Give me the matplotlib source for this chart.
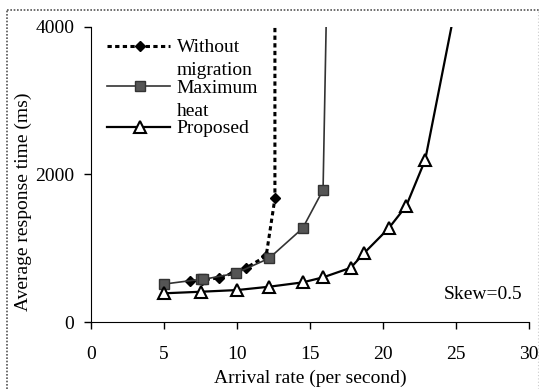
import matplotlib.pyplot as plt
from matplotlib.lines import Line2D

# values
without_x = [6.8, 7.6, 8.8, 9.8, 10.6, 12.0, 12.6, 12.6]
without_y = [560, 570, 600, 670, 730, 895, 1677, 6000]

maxheat_x = [5.0, 7.5, 7.7, 9.9, 12.2, 14.5, 15.9, 16.3]
maxheat_y = [515, 579, 579, 660, 864, 1271, 1790, 6000]

proposed_x = [5.0, 7.5, 10.0, 12.2, 14.5, 15.9, 17.8, 18.7, 20.4, 21.6, 22.9, 25.0]
proposed_y = [390, 411, 434, 479, 538, 606, 736, 932, 1271, 1573, 2197, 4300]

labels = ['Without\nmigration', 'Maximum\nheat', 'Proposed']
x_ticks = [0, 5, 10, 15, 20, 25, 30]
y_ticks = [0, 2000, 4000]

plt.rcParams['font.family'] = ['Liberation Serif', 'DejaVu Serif']
FS = 14

fig = plt.figure(figsize=(5.39, 3.89), dpi=100)
ax = fig.add_axes([0.169, 0.172, 0.812, 0.759])

# the dotted frame round the whole picture
fig.add_artist(Line2D([0.013, 0.013], [0, 0.974], transform=fig.transFigure,
                      color='#555555', lw=1.2, ls=(0, (1, 1))))
fig.add_artist(Line2D([0.013, 1.0], [0.974, 0.974], transform=fig.transFigure,
                      color='#555555', lw=1.2, ls=(0, (1, 1))))
fig.add_artist(Line2D([0.998, 0.998], [0, 0.974], transform=fig.transFigure,
                      color='#cccccc', lw=0.8, ls=(0, (1, 2))))

styles = [
    dict(color='black', lw=2.2, ls=(0, (1.4, 1.1)), marker='D', ms=5.5, mfc='black', mec='black'),
    dict(color='#333333', lw=1.2, ls='-', marker='s', ms=7, mfc='#555555', mec='#333333'),
    dict(color='black', lw=1.6, ls='-', marker='^', ms=8, mfc='white', mec='black', mew=1.5),
]

ax.plot(without_x, without_y, zorder=3, **styles[0])
ax.plot(maxheat_x, maxheat_y, zorder=4, **styles[1])
ax.plot(proposed_x, proposed_y, zorder=5, **styles[2])

ax.set_xlim(0, 30)
ax.set_ylim(0, 4000)
ax.set_xticks(x_ticks)
ax.set_yticks(y_ticks)
ax.tick_params(labelsize=FS, direction='out', length=5, width=1)
ax.tick_params(axis='x', pad=12)
ax.tick_params(axis='y', pad=7)
ax.spines['top'].set_visible(False)
ax.spines['right'].set_visible(False)
ax.set_xlabel('Arrival rate (per second)', fontsize=FS, labelpad=5)
ax.set_ylabel('Average response time (ms)', fontsize=FS)
ax.yaxis.set_label_coords(-0.135, 0.407)

ax.text(0.985, 0.095, 'Skew=0.5', transform=ax.transAxes, fontsize=FS,
        ha='right', va='center')

# legend drawn by hand: the handle sits next to the first line of each label
for i, (lab, st) in enumerate(zip(labels, styles)):
    yy = 0.936 - i * 0.138
    ax.add_line(Line2D([0.037, 0.18], [yy, yy], transform=ax.transAxes, markevery=[], **st))
    ax.add_line(Line2D([0.112], [yy], transform=ax.transAxes, **st))
    ax.text(0.196, yy + 0.023, lab, transform=ax.transAxes, fontsize=FS,
            ha='left', va='top', linespacing=1.45)

fig.savefig('out.png', dpi=100)
